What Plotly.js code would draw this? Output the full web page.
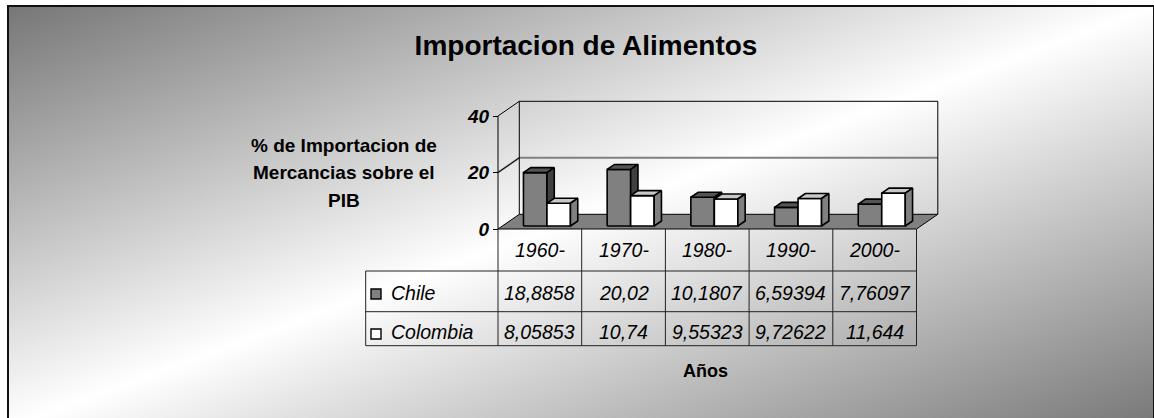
<!DOCTYPE html>
<html>
<head>
<meta charset="utf-8">
<script src="https://cdn.plot.ly/plotly-3.0.1.min.js"></script>
<style>
  html, body { margin: 0; padding: 0; width: 1154px; height: 418px; overflow: hidden; background: #fff; }
  #frame {
    position: absolute; left: 7px; top: 5px; width: 1144px; height: 420px;
    border-top: 2px solid #111; border-left: 2px solid #111; border-right: 2px solid #111;
    background: linear-gradient(to bottom right, #777 0%, #fff 50%, #777 100%);
  }
  #chart { position: absolute; left: 0; top: 0; width: 1154px; height: 418px; }
</style>
</head>
<body>
<div id="frame"></div>
<div id="chart"></div>
<script>
// ---- data ----
const categories = ['1960-', '1970-', '1980-', '1990-', '2000-'];
const seriesNames = ['Chile', 'Colombia'];
const chile = [18.8858, 20.02, 10.1807, 6.59394, 7.76097];
const colombia = [8.05853, 10.74, 9.55323, 9.72622, 11.644];
const yTicks = [0, 20, 40];
const yTitleLines = ['% de Importacion de', 'Mercancias sobre el', 'PIB'];
const chartTitle = 'Importacion de Alimentos';
const xTitle = 'Años';

// ---- layout geometry (pixels) ----
const W = 1154, H = 418;
const X0 = 498, CAT = 83.7;     // front axis x and width of one category
const Y0 = 229, UNIT = 2.825;   // front floor line and pixels per value unit
const px2x = p => (p - X0) / CAT;
const py2y = p => (Y0 - p) / UNIT;
const dx = p => p / CAT;
const dy = p => p / UNIT;

const DEPTH_X = dx(21.3), DEPTH_Y = dy(14.7);  // oblique depth of the box
const BAR_W = dx(23.5);
const PAIR_C = 0.585;                          // pair centre within a category
const BASE = dy(3);                            // bar front sits slightly back on the floor
const TOP_X = dx(7.3), TOP_Y = dy(5);          // bar depth offset
const Y_MAX = yTicks[yTicks.length - 1];
const N = categories.length;

const FONT = 'Liberation Sans, Arial, Helvetica, sans-serif';
const colors = {
  Chile:    { front: '#808080', top: '#555555', side: '#404040' },
  Colombia: { front: '#ffffff', top: '#c8c8c8', side: '#808080' }
};

const fmt = v => String(v).replace('.', ',');

const traces = [];

function seg(pts) {
  const xs = [], ys = [];
  pts.forEach(s => { s.forEach(p => { xs.push(p[0]); ys.push(p[1]); }); xs.push(null); ys.push(null); });
  return { xs, ys };
}

// gridline at 20 across side and back wall
const grid = seg([
  [[0, 20], [DEPTH_X, 20 + DEPTH_Y], [N + DEPTH_X, 20 + DEPTH_Y]]
]);
traces.push({ x: grid.xs, y: grid.ys, mode: 'lines', line: { color: '#808080', width: 2 },
  hoverinfo: 'skip', showlegend: false });

// box edges: front axis, top edges, back wall corners
const walls = seg([
  [[0, 0], [0, Y_MAX], [DEPTH_X, Y_MAX + DEPTH_Y], [N + DEPTH_X, Y_MAX + DEPTH_Y], [N + DEPTH_X, DEPTH_Y]],
  [[DEPTH_X, DEPTH_Y], [DEPTH_X, Y_MAX + DEPTH_Y]],
  [[0, 20], [DEPTH_X, 20 + DEPTH_Y]]
]);
traces.push({ x: walls.xs, y: walls.ys, mode: 'lines', line: { color: '#000', width: 1 },
  hoverinfo: 'skip', showlegend: false });

// floor
traces.push({
  x: [0, N, N + DEPTH_X, DEPTH_X, 0],
  y: [0, 0, DEPTH_Y, DEPTH_Y, 0],
  mode: 'lines', fill: 'toself', fillcolor: '#808080',
  line: { color: '#000', width: 1 }, hoverinfo: 'skip', showlegend: false
});

// 3D columns: front, top and right side faces for each series
[chile, colombia].forEach((vals, s) => {
  const c = colors[seriesNames[s]];
  const faces = { front: [[], []], top: [[], []], side: [[], []] };
  vals.forEach((v, i) => {
    const l = i + PAIR_C - BAR_W + s * BAR_W, r = l + BAR_W;
    const b = BASE, t = BASE + v;
    const add = (f, pts) => { pts.forEach(p => { faces[f][0].push(p[0]); faces[f][1].push(p[1]); });
      faces[f][0].push(null); faces[f][1].push(null); };
    add('front', [[l, b], [r, b], [r, t], [l, t], [l, b]]);
    add('top', [[l, t], [r, t], [r + TOP_X, t + TOP_Y], [l + TOP_X, t + TOP_Y], [l, t]]);
    add('side', [[r, b], [r + TOP_X, b + TOP_Y], [r + TOP_X, t + TOP_Y], [r, t], [r, b]]);
  });
  ['front', 'top', 'side'].forEach(f => {
    traces.push({
      x: faces[f][0], y: faces[f][1], mode: 'lines', fill: 'toself', fillcolor: c[f],
      line: { color: '#000', width: 1.6 }, name: seriesNames[s],
      hoverinfo: 'skip', showlegend: false
    });
  });
});

// legend keys inside the data table
traces.push({
  x: [px2x(376), px2x(376)], y: [py2y(294), py2y(334)], mode: 'markers',
  marker: { symbol: 'square', size: 10, color: seriesNames.map(n => colors[n].front),
            line: { color: '#000', width: 1.4 } },
  hoverinfo: 'skip', showlegend: false
});

// data table grid
const tLeft = px2x(365.7);
const rowLines = [py2y(271), py2y(311.7), py2y(345.7)];
const shapes = [];
const lineStyle = { color: '#222', width: 1 };
for (let i = 0; i <= N; i++) {
  shapes.push({ type: 'line', xref: 'x', yref: 'y', x0: i, x1: i, y0: 0, y1: rowLines[2], line: lineStyle });
}
shapes.push({ type: 'line', xref: 'x', yref: 'y', x0: tLeft, x1: tLeft, y0: rowLines[0], y1: rowLines[2], line: lineStyle });
rowLines.forEach(y => shapes.push({ type: 'line', xref: 'x', yref: 'y', x0: tLeft, x1: N, y0: y, y1: y, line: lineStyle }));

const tableFont = { family: FONT, size: 19.5, color: '#000', style: 'italic' };
const annotations = [];
categories.forEach((c, i) => annotations.push({
  x: i + 0.5, y: py2y(250), text: c, showarrow: false, font: tableFont, xanchor: 'center', yanchor: 'middle'
}));
const rowY = [py2y(293), py2y(331.5)];
seriesNames.forEach((n, s) => annotations.push({
  x: px2x(389), y: rowY[s], text: n, showarrow: false, font: tableFont, xanchor: 'left', yanchor: 'middle'
}));
[chile, colombia].forEach((vals, s) => vals.forEach((v, i) => annotations.push({
  x: i + 0.5, y: rowY[s], text: fmt(v), showarrow: false, font: tableFont, xanchor: 'center', yanchor: 'middle'
})));

// axis titles
const titleFont = { family: FONT, size: 19, color: '#000', weight: 'bold' };
yTitleLines.forEach((t, k) => annotations.push({
  x: px2x(344), y: py2y(145 + k * 27.5), text: t, showarrow: false, font: titleFont,
  xanchor: 'center', yanchor: 'middle'
}));
annotations.push({
  x: 2.5 + dx(-2), y: py2y(371), text: xTitle, showarrow: false,
  font: { family: FONT, size: 18, color: '#000', weight: 'bold' }, xanchor: 'center', yanchor: 'middle'
});

const layout = {
  width: W, height: H,
  margin: { l: 0, r: 0, t: 0, b: 0, pad: 0 },
  paper_bgcolor: 'rgba(0,0,0,0)', plot_bgcolor: 'rgba(0,0,0,0)',
  showlegend: false,
  title: {
    text: chartTitle, x: 586 / W, y: 1 - 45 / H, xanchor: 'center', yanchor: 'middle', xref: 'paper', yref: 'paper',
    font: { family: FONT, size: 28, color: '#000', weight: 'bold' }
  },
  xaxis: { range: [px2x(0), px2x(W)], visible: false, fixedrange: true },
  yaxis: {
    range: [py2y(H), py2y(0)], anchor: 'free', position: X0 / W,
    tickvals: yTicks, ticktext: yTicks.map(String),
    ticks: 'outside', ticklen: 5, tickcolor: '#000', tickwidth: 1,
    showline: false, showgrid: false, zeroline: false, fixedrange: true,
    tickfont: { family: FONT, size: 19, color: '#000', weight: 'bold', style: 'italic' }
  },
  shapes: shapes,
  annotations: annotations
};

Plotly.newPlot('chart', traces, layout, { staticPlot: true, displayModeBar: false });
</script>
</body>
</html>
